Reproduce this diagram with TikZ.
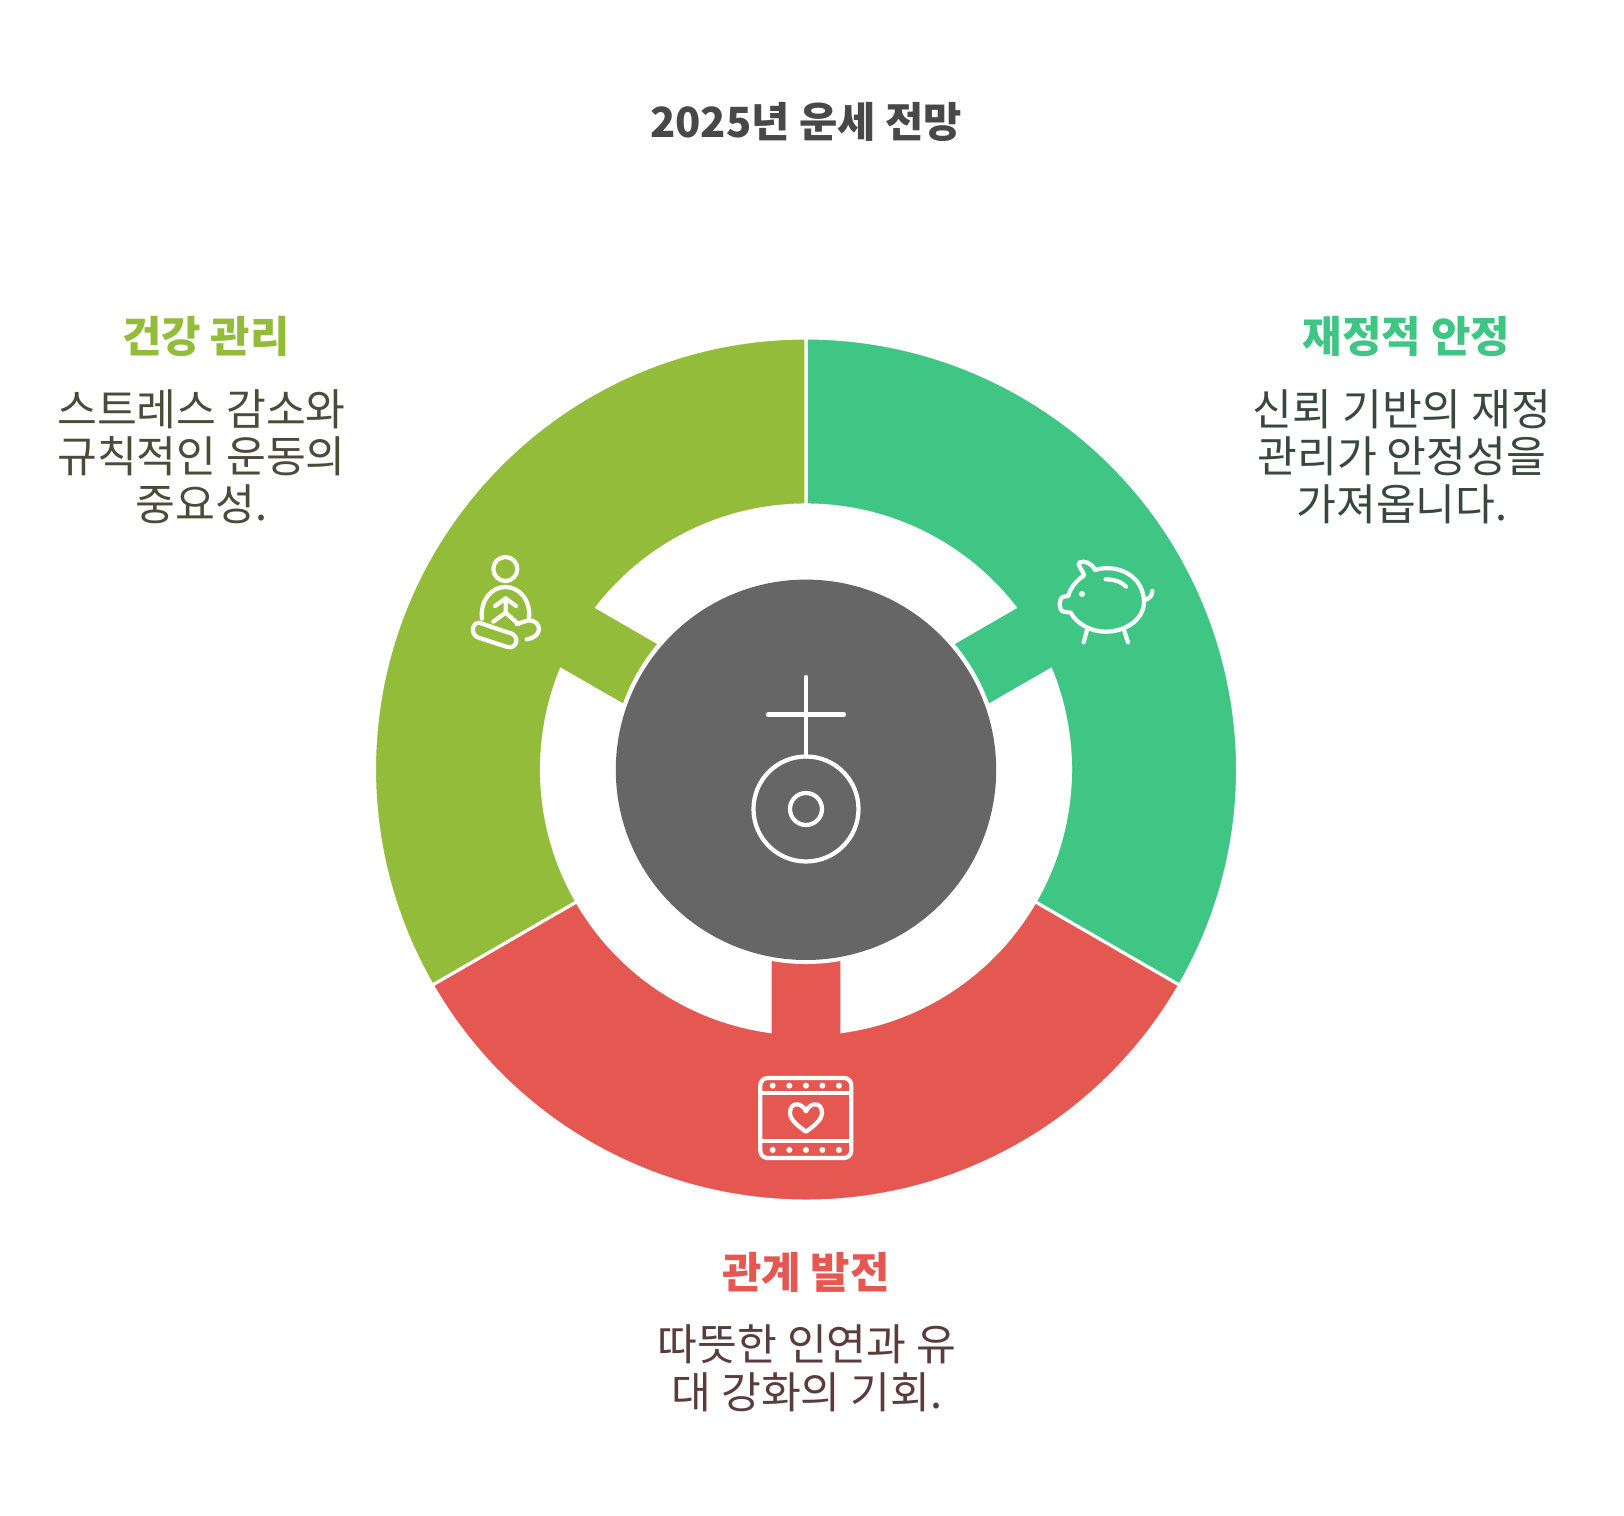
\documentclass[tikz,border=0pt]{standalone}
\usepackage{fontspec}
\usepackage{tikz}
\usetikzlibrary{positioning,calc}
\newfontfamily\krfont{Noto Sans CJK KR}
\definecolor{figGreen}{HTML}{93BC3A}
\definecolor{figTeal}{HTML}{3FC684}
\definecolor{figRed}{HTML}{E55852}
\definecolor{figHub}{HTML}{666666}
\definecolor{figTitle}{HTML}{484848}
\definecolor{txtGreen}{HTML}{4B4C38}
\definecolor{txtTeal}{HTML}{37493F}
\definecolor{txtRed}{HTML}{5B3C3C}
\tikzset{
  titletext/.style={font=\krfont\bfseries\fontsize{29.6}{34}\selectfont,anchor=center},
  headtext/.style={font=\krfont\bfseries\fontsize{30.5}{34}\selectfont,anchor=center},
  bodytext/.style={font=\krfont\fontsize{30.8}{33.9}\selectfont,align=center,anchor=center},
  iconline/.style={draw=white,line width=3pt,line cap=round,line join=round},
  ringpart/.style={draw=white,line width=2.2pt,line join=miter},
  zoomgrid/.style={x=0.008333cm,y=-0.008333cm},
}
\begin{document}
\begin{tikzpicture}[x=0.025cm,y=0.025cm]
  \useasboundingbox (-806,-746.5) rectangle (818,769.5);
  % ring parts
  \foreach \s/\col in {30/figTeal,150/figGreen,270/figRed}{
    \fill[\col,ringpart] (\s-60:431.5) arc[start angle=\s-60,end angle=\s+60,radius=431.5]
      -- (\s+60:264.5) arc[start angle=\s+60,end angle=\s+7.8,radius=264.5]
      -- (\s+10.7:193) arc[start angle=\s+10.7,end angle=\s-10.7,radius=193]
      -- (\s-7.8:264.5) arc[start angle=\s-7.8,end angle=\s-60,radius=264.5] -- cycle;
  }
  \fill[figHub] (0,-0.3) circle (190.2);
  % hub mark
  \draw[iconline] (0,92.5) -- (0,13);
  \draw[iconline] (-38,55) -- (38,55);
  \draw[iconline] (0,-39.5) circle (52.5);
  \draw[iconline] (0,-39.5) circle (16);
  % meditation
  \begin{scope}[shift={(-376,249.5)},zoomgrid]
    \draw[iconline] (226,147) circle (36);
    \draw[iconline] (156,296) .. controls (150,240) and (185,201) .. (226,201) .. controls (268,201) and (303,240) .. (297,296);
    \draw[iconline] (195,258) -- (227,235) -- (258,258);
    \draw[iconline] (227,235) -- (227,278) -- (190,305);
    \draw[iconline] (227,278) -- (265,312);
    \draw[iconline] (260,312) -- (292,302) .. controls (315,298) and (328,315) .. (327,328) .. controls (326,345) and (310,355) .. (290,358);
    \draw[iconline] (150,309) -- (245,341) .. controls (268,350) and (262,388) .. (232,381) -- (143,352) .. controls (120,343) and (127,303) .. (150,309) -- cycle;
  \end{scope}
  % piggy
  \begin{scope}[shift={(134,249.5)},zoomgrid]
    \draw[iconline] (465,150) .. controls (530,130) and (610,165) .. (612,245) .. controls (612,300) and (555,335) .. (497,335) .. controls (450,335) and (410,310) .. (392,278) -- (372,275) .. controls (355,275) and (355,230) .. (372,230) -- (385,228) .. controls (390,205) and (410,180) .. (432,167) .. controls (432,155) and (410,135) .. (417,128) .. controls (435,120) and (455,130) .. (465,150);
    \fill[white] (426,222) circle (9);
    \draw[iconline] (497,178) .. controls (520,178) and (545,185) .. (558,200);
    \draw[iconline] (615,240) .. controls (630,235) and (637,225) .. (637,213);
    \draw[iconline] (441,330) -- (431,367);
    \draw[iconline] (552,330) -- (564,367);
  \end{scope}
  % film
  \begin{scope}[shift={(-86,-160.5)},zoomgrid]
    \draw[iconline,rounded corners=5.2pt] (121,444) rectangle (394,684);
    \draw[iconline] (121,490) -- (394,490);
    \draw[iconline] (121,634) -- (394,634);
    \foreach \px in {158,208,258,307,357}{
      \fill[white] (\px,467) circle (9);
      \fill[white] (\px,660) circle (9);
    }
    \draw[iconline] (258,544) .. controls (245,515) and (209,515) .. (210,550) .. controls (211,572) and (240,592) .. (258,605) .. controls (276,592) and (305,572) .. (306,550) .. controls (307,515) and (271,515) .. (258,544) -- cycle;
  \end{scope}
  % title and texts
  \node[titletext,figTitle] (title) at (0,648) {2025년 운세 전망};
  \node[headtext,figGreen] (healthhead) at (-600,433) {건강 관리};
  \node[bodytext,txtGreen] (healthbody) at (-604.5,313) {스트레스 감소와\\규칙적인 운동의\\중요성.};
  \node[headtext,figTeal] (moneyhead) at (600.5,433) {재정적 안정};
  \node[bodytext,txtTeal] (moneybody) at (596,313) {신뢰 기반의 재정\\관리가 안정성을\\가져옵니다.};
  \node[headtext,figRed] (lovehead) at (0,-503) {관계 발전};
  \node[bodytext,txtRed] (lovebody) at (1,-599) {따뜻한 인연과 유\\대 강화의 기회.};
\end{tikzpicture}
\end{document}
